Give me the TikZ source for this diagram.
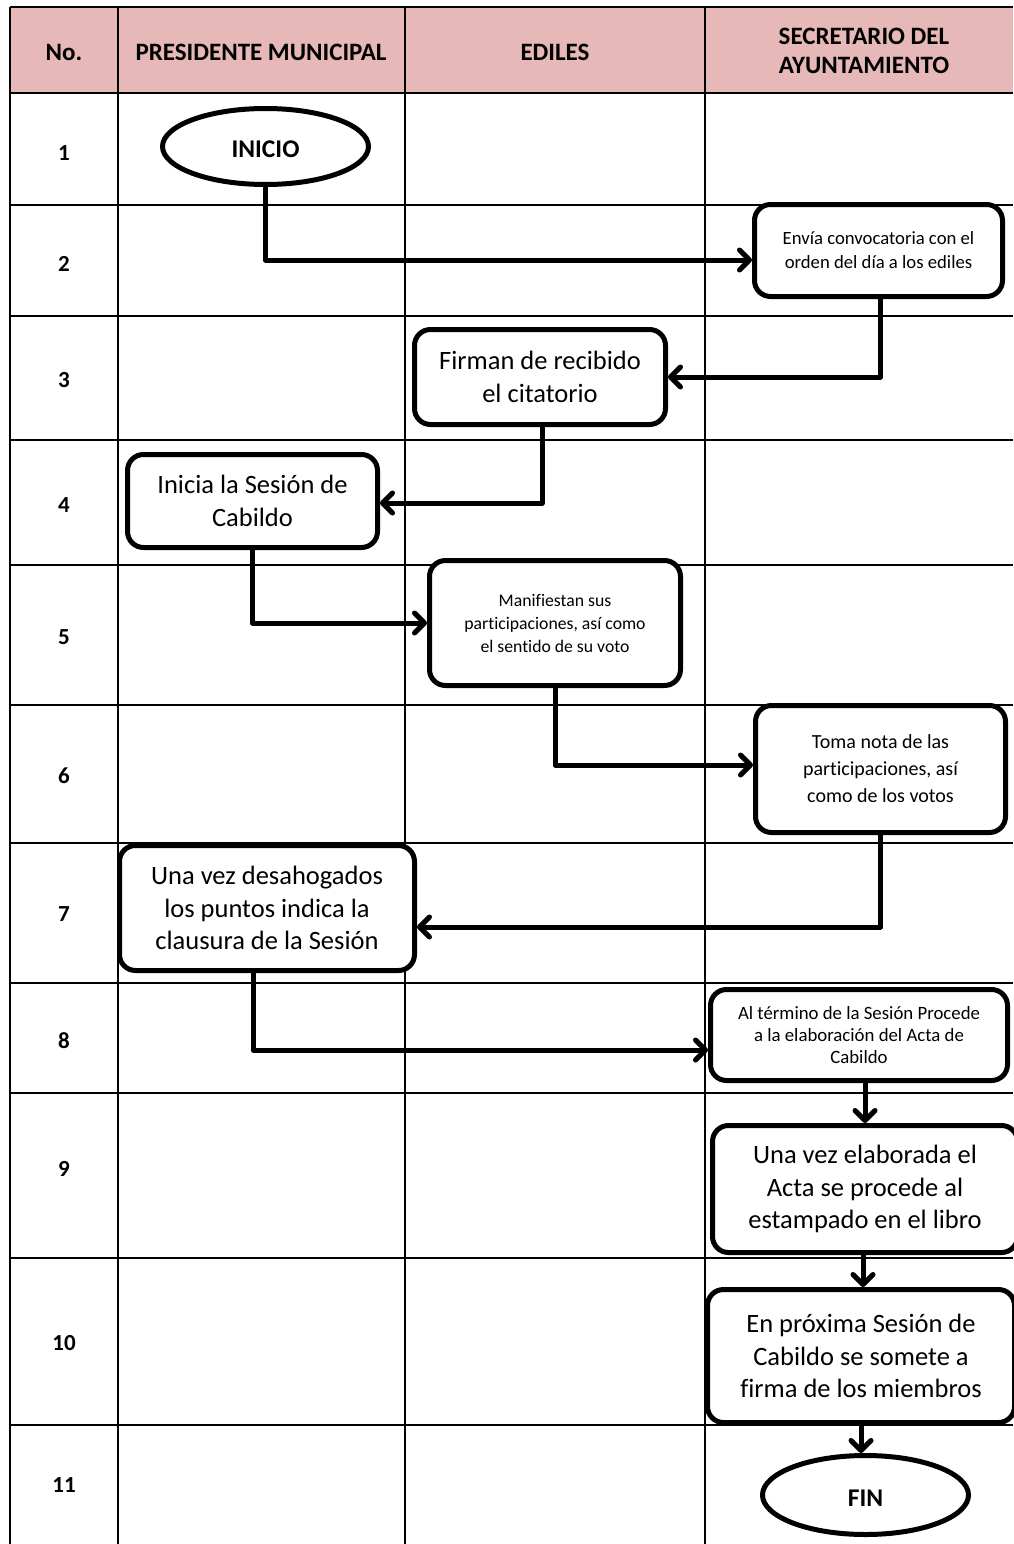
\documentclass[tikz,border=0pt]{standalone}
\usepackage{fontspec}
\setmainfont{Carlito}[Ligatures={NoCommon}]
\usetikzlibrary{arrows.meta,shapes.geometric,calc}
\definecolor{hdr}{HTML}{E6B8B7}
\begin{document}
\begin{tikzpicture}[x=1pt,y=-1pt,
  gridline/.style={line width=2pt, black},
  proc/.style={draw, line width=5pt, rounded corners=16pt, fill=white, align=center, inner sep=0pt, text=black},
  term/.style={draw, ellipse, line width=5pt, fill=white, inner sep=0pt, text height=22pt, text depth=0pt, font=\fontsize{25.5}{30}\selectfont\bfseries},
  big/.style={font=\fontsize{26.5}{32.5}\selectfont},
  conn/.style={line width=5pt, line join=round, -{Straight Barb[length=10pt,width=20pt,line cap=round,line join=round]}},
  hd/.style={font=\fontsize{25}{29}\selectfont\bfseries, align=center, text=black},
  num/.style={font=\fontsize{23}{27}\selectfont\bfseries, text=black}
]
\useasboundingbox[fill=white] (0,0) rectangle (1013,1544);
% header
\fill[hdr] (10,7) rectangle (1013,93);
% grid
\foreach \yy in {7,93,205,316,440,565,705,843,983,1093,1258,1425}
  \draw[gridline] (10,\yy) -- (1013,\yy);
\foreach \xx in {10,118,405,705}
  \draw[gridline] (\xx,7) -- (\xx,1544);
% header text
\node[hd] (hno) at (64,52) {No.};
\node[hd] (hpm) at (261,52) {PRESIDENTE MUNICIPAL};
\node[hd] (hed) at (555,52) {EDILES};
\node[hd] (hsa) at (864,51) {SECRETARIO DEL\\AYUNTAMIENTO};
% row numbers
\node[num] (n1) at (64,153) {1};
\node[num] (n2) at (64,264) {2};
\node[num] (n3) at (64,380) {3};
\node[num] (n4) at (64,505) {4};
\node[num] (n5) at (64,637) {5};
\node[num] (n6) at (64,776) {6};
\node[num] (n7) at (64,914) {7};
\node[num] (n8) at (64,1041) {8};
\node[num] (n9) at (64,1169) {9};
\node[num] (n10) at (64,1343) {10};
\node[num] (n11) at (64,1485) {11};
% shapes
\node[term, minimum width=206pt, minimum height=76pt] (inicio) at (265.5,146.5) {INICIO};
\node[proc, font=\fontsize{18.7}{24}\selectfont, minimum width=248pt, minimum height=92pt] (b2) at (878.5,250.5) {Envía convocatoria con el\\orden del día a los ediles};
\node[proc, big, minimum width=251pt, minimum height=95pt] (b3) at (540,377) {Firman de recibido\\el citatorio};
\node[proc, big, minimum width=250pt, minimum height=93pt] (b4) at (252.5,501) {Inicia la Sesión de\\Cabildo};
\node[proc, font=\fontsize{17.7}{23}\selectfont, minimum width=251pt, minimum height=125pt] (b5) at (555,623) {Manifiestan sus\\participaciones, así como\\el sentido de su voto};
\node[proc, font=\fontsize{20}{27}\selectfont, minimum width=250pt, minimum height=127pt] (b6) at (880.5,769) {Toma nota de las\\participaciones, así\\como de los votos};
\node[proc, big, minimum width=295pt, minimum height=125pt] (b7) at (267,908) {Una vez desahogados\\los puntos indica la\\clausura de la Sesión};
\node[proc, font=\fontsize{18.8}{22}\selectfont, minimum width=297pt, minimum height=91pt] (b8) at (859,1035) {Al término de la Sesión Procede\\a la elaboración del Acta de\\Cabildo};
\node[proc, big, minimum width=305pt, minimum height=127pt] (b9) at (865,1189) {Una vez elaborada el\\Acta se procede al\\estampado en el libro};
\node[proc, big, minimum width=307pt, minimum height=133pt] (b10) at (861,1356) {En próxima Sesión de\\Cabildo se somete a\\firma de los miembros};
\node[term, minimum width=206pt, minimum height=79pt] (fin) at (865.5,1495) {FIN};
% connectors
\draw[conn] (inicio.south) |- ([yshift=-9.5pt]b2.west);
\draw[conn] ([xshift=1.5pt]b2.south) |- (b3.east);
\draw[conn] ([xshift=2pt]b3.south) |- ([yshift=-2pt]b4.east);
\draw[conn] (b4.south) |- (b5.west);
\draw[conn] (b5.south) |- ([yshift=4pt]b6.west);
\draw[conn] (b6.south) |- ([yshift=-19pt]b7.east);
\draw[conn] ([xshift=-14pt]b7.south) |- ([yshift=-15pt]b8.west);
\draw[conn] (b8.south -| b9.north) -- (b9.north);
\draw[conn] ([xshift=-2pt]b9.south) -- ([xshift=-2pt]b9.south |- b10.north);
\draw[conn] (b10.south) -- (b10.south |- fin.north);
\end{tikzpicture}
\end{document}
